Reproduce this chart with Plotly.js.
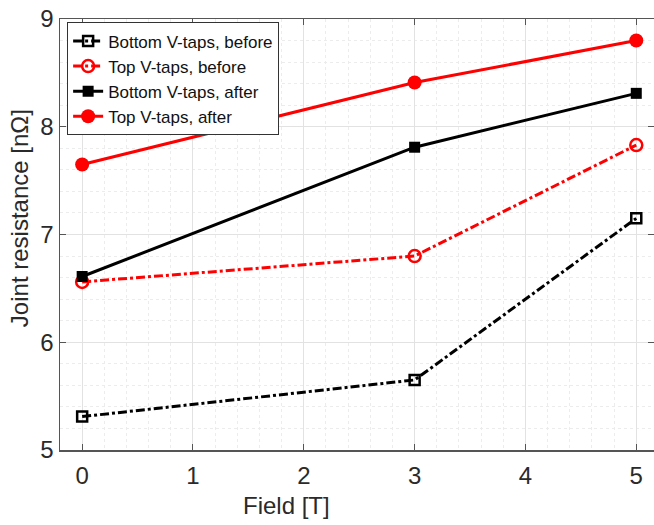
<!DOCTYPE html>
<html><head><meta charset="utf-8">
<script src="https://cdn.plot.ly/plotly-3.0.1.min.js"></script>
<style>body{margin:0;}#chart{width:654px;height:525px;}</style>
</head><body><div id="chart"></div>
<script>
const field = [0, 3, 5];
const bottomBefore = [5.31, 5.65, 7.15];
const topBefore = [6.56, 6.80, 7.83];
const bottomAfter = [6.61, 7.81, 8.31];
const topAfter = [7.65, 8.41, 8.80];
const seriesNames = ["Bottom V-taps, before", "Top V-taps, before", "Bottom V-taps, after", "Top V-taps, after"];
const xTicks = [0, 1, 2, 3, 4, 5];
const yTicks = [5, 6, 7, 8, 9];
const xTitle = 'Field [T]';
const yTitle = 'Joint resistance [nΩ]';

const FONT = 'Arial, Liberation Sans, sans-serif';

const traces = [
  {x: field, y: bottomBefore, name: seriesNames[0], mode: 'lines+markers',
   line: {color: '#000', width: 3, dash: 'dashdot'},
   marker: {symbol: 'square-open', size: 10, color: '#000', line: {width: 2.5, color: '#000'}}},
  {x: field, y: topBefore, name: seriesNames[1], mode: 'lines+markers',
   line: {color: '#f00', width: 3, dash: 'dashdot'},
   marker: {symbol: 'circle-open', size: 12, color: '#f00', line: {width: 2.5, color: '#f00'}}},
  {x: field, y: bottomAfter, name: seriesNames[2], mode: 'lines+markers',
   line: {color: '#000', width: 3},
   marker: {symbol: 'square', size: 11, color: '#000'}},
  {x: field, y: topAfter, name: seriesNames[3], mode: 'lines+markers',
   line: {color: '#f00', width: 3},
   marker: {symbol: 'circle', size: 14, color: '#f00'}}
];

const axisCommon = {
  showline: true, linecolor: '#555', linewidth: 1.5, mirror: 'ticks',
  ticks: 'inside', ticklen: 6, tickcolor: '#555',
  showgrid: true, gridcolor: '#e2e2e2', gridwidth: 1, zeroline: false,
  tickfont: {family: FONT, size: 24, color: '#2a2a2a'}
};

const layout = {
  width: 654, height: 525,
  margin: {l: 60, r: 0, t: 19, b: 75},
  paper_bgcolor: '#fff', plot_bgcolor: '#fff',
  showlegend: true,
  legend: {x: 0.012, y: 0.992, xanchor: 'left', yanchor: 'top',
    bgcolor: '#fff', bordercolor: '#333', borderwidth: 1,
    font: {family: FONT, size: 17, color: '#111'},
    tracegroupgap: 0, itemwidth: 30},
  xaxis: Object.assign({}, axisCommon, {
    range: [-0.2, 5.16], tickvals: xTicks, ticktext: xTicks.map(String),
    ticklabelstandoff: 4,
    minor: {dtick: 0.2, showgrid: true, gridcolor: '#ececec', griddash: 'dot', gridwidth: 1}
  }),
  yaxis: Object.assign({}, axisCommon, {
    range: [5, 9], tickvals: yTicks, ticktext: yTicks.map(String),
    minor: {dtick: 0.2, showgrid: true, gridcolor: '#ececec', griddash: 'dot', gridwidth: 1}
  }),
  annotations: [
    {text: xTitle, xref: 'paper', yref: 'paper', x: 0.382, y: -0.128, xanchor: 'center', yanchor: 'middle',
     showarrow: false, font: {family: FONT, size: 24, color: '#2a2a2a'}},
    {text: yTitle, xref: 'paper', yref: 'paper', x: -0.069, y: 0.538, xanchor: 'center', yanchor: 'middle',
     textangle: -90, showarrow: false, font: {family: FONT, size: 24, color: '#2a2a2a'}}
  ]
};

Plotly.newPlot('chart', traces, layout, {displayModeBar: false, staticPlot: true});
</script></body></html>
